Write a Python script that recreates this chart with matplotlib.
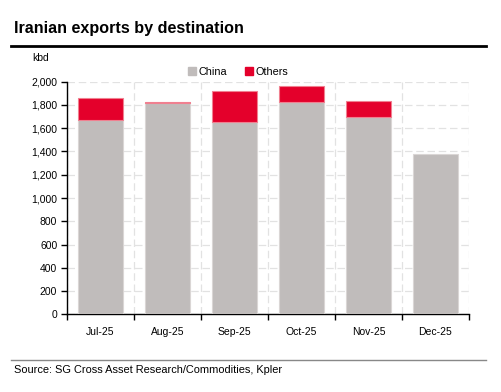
import matplotlib
matplotlib.use("Agg")
import matplotlib.pyplot as plt
from matplotlib.lines import Line2D
import numpy as np

plt.rcParams['font.family'] = ['Liberation Sans', 'DejaVu Sans']

months = ["Jul-25", "Aug-25", "Sep-25", "Oct-25", "Nov-25", "Dec-25"]
china = [1668, 1814, 1653, 1825, 1699, 1376]
others = [194, 11, 264, 135, 137, 0]
yticks = [0, 200, 400, 600, 800, 1000, 1200, 1400, 1600, 1800, 2000]

grey = "#C0BCBB"
red = "#E4002B"

fig = plt.figure(figsize=(5.02, 3.92), dpi=100)
ax = fig.add_axes([67/502, 1-314.3/392, (469-67)/502, (314.3-81.7)/392])

x = np.arange(len(months))
ax.bar(x, china, width=0.67, color=grey, edgecolor="#DAD6D5", linewidth=0.8, zorder=3)
ax.bar(x, others, bottom=china, width=0.67, color=red, edgecolor="#F08090",
       linewidth=[0.8 if v > 0 else 0 for v in others], zorder=3)

ax.set_xlim(-0.5, len(months) - 0.5)
ax.set_ylim(0, 2000)
ax.set_yticks(yticks)
ax.set_yticklabels([f"{v:,}" for v in yticks], fontsize=7.5)

ax.set_xticks(np.arange(-0.5, len(months)), minor=False)
ax.set_xticklabels([])
ax.set_xticks(x, minor=True)
ax.set_xticklabels(months, minor=True, fontsize=7.5)
ax.tick_params(axis='x', which='minor', length=0, pad=9)
ax.tick_params(axis='x', which='major', direction='out', length=4, width=1)
ax.tick_params(axis='y', direction='out', length=4, width=1, pad=3)

ax.grid(True, which='major', color="#E2E2E2", linestyle=(0, (6, 3)), linewidth=0.9, zorder=0)
for s in ["top", "right"]:
    ax.spines[s].set_visible(False)
for s in ["left", "bottom"]:
    ax.spines[s].set_color("black")
    ax.spines[s].set_linewidth(1)

fig.text(14/502, 1-29/392, "Iranian exports by destination", fontsize=11.6, fontweight="bold", va="center", ha="left")
fig.add_artist(Line2D([11/502, 486/502], [1-45.5/392, 1-45.5/392], color="black", linewidth=2))
fig.text(32/502, 1-58/392, "kbd", fontsize=7.5, va="center", ha="left")

handles = [plt.Rectangle((0, 0), 1, 1, color=grey), plt.Rectangle((0, 0), 1, 1, color=red)]
fig.legend(handles, ["China", "Others"], loc="center", bbox_to_anchor=(238/502, 1-72/392), ncol=2,
           frameon=False, fontsize=7.8, handlelength=0.8, handleheight=0.8, handletextpad=0.2, columnspacing=1.6)

fig.add_artist(Line2D([11/502, 486/502], [1-359.5/392, 1-359.5/392], color="#888888", linewidth=1))
fig.text(14/502, 1-370/392, "Source: SG Cross Asset Research/Commodities, Kpler", fontsize=7.9, va="center", ha="left")

fig.savefig("out.png", dpi=100)
